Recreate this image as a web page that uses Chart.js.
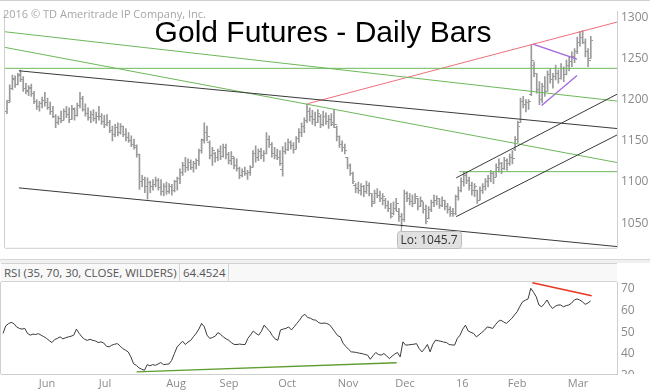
<!DOCTYPE html>
<html><head><meta charset="utf-8">
<script src="https://cdn.jsdelivr.net/npm/chart.js@4.4.1/dist/chart.umd.min.js"></script>
<style>
body{margin:0;width:650px;height:392px;overflow:hidden;background:#fff;position:relative;font-family:'Open Sans',sans-serif}
.abs{position:absolute}
</style></head><body>
<div class="abs" style="left:0;top:0;width:650px;height:259px"><canvas id="price"></canvas></div>
<div class="abs" style="left:0;top:259px;width:650px;height:4px;background:#f0f0f0;border-top:1px solid #d6d6d6;box-sizing:border-box"></div>
<div class="abs" style="left:0;top:263px;width:650px;height:129px"><canvas id="rsi"></canvas></div>
<div class="abs" style="left:1px;top:263px;width:616px;height:19px;background:#f8f8f8;border-top:1px solid #d4d4d4;border-bottom:1px solid #d4d4d4;box-sizing:border-box"></div>
<div class="abs" id="rsiName" style="left:1px;top:263px;width:179px;height:19px;border-right:1px solid #d4d4d4;box-sizing:border-box;font-size:11.5px;line-height:19px;color:#555;padding-left:3px;white-space:nowrap"></div>
<div class="abs" id="rsiVal" style="left:180px;top:263px;width:49px;height:19px;border-right:1px solid #d4d4d4;box-sizing:border-box;font-size:11.5px;line-height:19px;color:#555;padding-left:3px;white-space:nowrap"></div>
<div class="abs" id="copy" style="left:3px;top:8px;font-size:11px;line-height:11px;color:#a6a6a6;white-space:nowrap"></div>
<div class="abs" id="title" style="left:0;top:17px;width:646px;text-align:center;font-family:'Liberation Sans',Arial,sans-serif;font-size:30px;line-height:30px;color:#000;white-space:nowrap"></div>
<script>
// ---- data (trading-day index = position of each daily bar) ----
const titleText = 'Gold Futures - Daily Bars';
const copyrightText = '2016 \u00A9 TD Ameritrade IP Company, Inc.';
const rsiLabel = 'RSI (35, 70, 30, CLOSE, WILDERS)';
const rsiLast = '64.4524';

const opens = [1186,1199,1214,1225,1219,1229,1225,1214,1211,1214,1207,1198,1192,1195,1199,1196,1190,1186,1180,1172,
1177,1175,1186,1182,1176,1188,1181,1193,1202,1188,1183,1178,1182,1177,1180,1179,1173,1170,1172,1163,
1158,1166,1160,1168,1158,1154,1150,1146,1142,1133,1100,1103,1094,1099,1095,1097,1102,1093,1088,1094,
1089,1094,1090,1100,1104,1112,1120,1118,1124,1118,1122,1126,1138,1152,1160,1148,1132,1134,1130,1137,
1131,1142,1133,1126,1128,1120,1116,1108,1113,1110,1112,1118,1134,1130,1137,1132,1135,1152,1146,1134,
1132,1130,1115,1137,1140,1148,1144,1140,1153,1160,1168,1175,1186,1180,1176,1172,1180,1170,1180,1174,
1176,1172,1166,1155,1146,1142,1130,1120,1110,1096,1092,1090,1094,1088,1096,1086,1076,1086,1084,1080,
1078,1072,1068,1062,1068,1064,1058,1054,1086,1080,1076,1074,1080,1070,1076,1066,1056,1066,1075,1078,
1080,1072,1078,1070,1066,1064,1062,1082,1090,1100,1108,1102,1096,1090,1090,1078,1090,1094,1100,1104,
1110,1106,1118,1122,1116,1126,1122,1130,1140,1152,1172,1198,1194,1196,1206,1242,1232,1212,1200,1216,
1210,1230,1224,1228,1232,1226,1238,1230,1242,1246,1252,1258,1270,1275,1270,1258,1250];
const highs = [1199,1218,1230,1229,1232,1236,1228,1220,1217,1219,1210,1200,1198,1203,1209,1202,1197,1192,1182,1180,
1186,1189,1192,1190,1193,1190,1196,1209,1204,1195,1190,1186,1188,1185,1192,1183,1181,1182,1175,1168,
1170,1172,1171,1168,1165,1160,1156,1152,1145,1134,1108,1106,1105,1101,1103,1106,1104,1103,1098,1100,
1098,1097,1102,1106,1116,1124,1130,1128,1127,1125,1128,1140,1152,1172,1168,1150,1142,1136,1140,1144,
1146,1146,1136,1137,1130,1128,1118,1116,1118,1114,1120,1138,1144,1140,1141,1138,1160,1156,1148,1142,
1140,1138,1143,1148,1152,1150,1148,1155,1165,1172,1178,1195,1190,1187,1185,1188,1182,1186,1184,1181,
1183,1188,1168,1156,1150,1146,1130,1122,1112,1098,1100,1098,1096,1101,1099,1086,1090,1092,1089,1086,
1080,1077,1074,1076,1080,1068,1062,1090,1088,1086,1084,1086,1080,1082,1076,1072,1070,1078,1084,1083,
1080,1082,1078,1074,1070,1068,1084,1094,1105,1113,1112,1106,1100,1098,1090,1094,1098,1104,1108,1114,
1112,1122,1128,1124,1130,1128,1134,1138,1155,1174,1202,1204,1200,1200,1267,1246,1232,1222,1220,1228,
1235,1238,1232,1242,1236,1244,1240,1248,1252,1258,1262,1276,1283,1284,1274,1262,1277];
const lows = [1183,1197,1212,1215,1218,1222,1210,1207,1205,1204,1195,1188,1186,1190,1192,1188,1182,1178,1166,1170,
1172,1175,1178,1172,1176,1175,1180,1190,1186,1180,1175,1172,1174,1171,1175,1170,1166,1168,1160,1150,
1155,1156,1158,1155,1150,1148,1143,1140,1130,1091,1094,1087,1079,1087,1090,1094,1090,1084,1083,1085,
1086,1084,1088,1090,1098,1108,1112,1114,1115,1112,1116,1120,1135,1147,1150,1128,1120,1124,1126,1127,
1130,1128,1122,1121,1116,1113,1104,1106,1108,1103,1108,1118,1124,1126,1128,1125,1134,1142,1130,1128,
1127,1120,1107,1134,1138,1140,1135,1140,1148,1155,1160,1172,1174,1170,1168,1172,1166,1168,1170,1165,
1168,1166,1150,1142,1137,1134,1116,1108,1098,1087,1086,1084,1082,1086,1083,1070,1074,1081,1076,1072,
1068,1064,1056,1060,1065,1052,1045.7,1052,1076,1072,1070,1074,1066,1070,1062,1049,1055,1064,1070,1072,
1068,1070,1066,1062,1058,1058,1060,1078,1088,1095,1098,1090,1084,1082,1074,1078,1086,1090,1094,1100,
1098,1106,1112,1110,1115,1114,1120,1122,1138,1148,1172,1190,1185,1188,1205,1228,1208,1194,1196,1204,
1210,1220,1214,1224,1220,1225,1222,1230,1235,1240,1245,1256,1265,1268,1252,1240,1250];
const closes = [1197,1214,1226,1218,1230,1225,1214,1210,1215,1207,1198,1192,1195,1199,1196,1190,1186,1180,1172,1177,
1175,1186,1182,1176,1189,1181,1193,1202,1188,1183,1178,1182,1177,1180,1179,1173,1170,1172,1163,1158,
1166,1160,1168,1158,1154,1150,1146,1144,1133,1100,1103,1094,1099,1095,1097,1102,1093,1088,1094,1089,
1094,1090,1100,1104,1112,1120,1118,1124,1118,1122,1126,1138,1150,1160,1155,1132,1138,1130,1137,1131,
1142,1133,1126,1131,1120,1116,1108,1113,1110,1112,1118,1134,1130,1137,1132,1135,1152,1146,1134,1132,
1130,1122,1137,1140,1148,1144,1140,1153,1160,1168,1175,1186,1180,1176,1172,1183,1170,1180,1174,1176,
1170,1170,1155,1146,1142,1138,1120,1110,1100,1092,1090,1094,1088,1096,1086,1074,1086,1084,1080,1082,
1072,1068,1058,1068,1074,1058,1054,1086,1080,1076,1074,1082,1070,1078,1066,1052,1066,1075,1078,1080,
1072,1078,1070,1066,1062,1062,1082,1090,1100,1108,1102,1096,1090,1094,1078,1090,1094,1100,1104,1110,
1106,1118,1122,1116,1126,1122,1130,1128,1152,1168,1198,1194,1196,1198,1248,1232,1212,1200,1216,1210,
1230,1224,1228,1232,1226,1238,1230,1242,1246,1252,1258,1270,1275,1270,1258,1248,1272];
const rsiValues = [49.5,53.0,54.0,54.6,54.0,52.5,51.8,51.5,51.8,49.5,48.7,49.2,49.0,49.4,48.7,48.0,47.2,46.2,45.3,46.7,
47.2,47.9,47.0,47.5,47.9,48.2,48.7,51.5,49.5,47.9,46.8,46.3,46.8,46.3,46.0,45.3,45.6,45.1,43.6,43.3,
44.1,44.5,44.8,43.8,42.5,41.8,41.0,38.7,35.5,34.8,33.6,33.0,32.5,35.1,34.6,35.1,34.8,35.4,36.1,35.1,
35.3,35.4,37.1,40.2,43.3,44.6,45.9,44.4,45.5,46.3,48.0,49.5,51.5,54.1,52.5,48.7,47.2,47.6,48.2,49.9,
49.0,47.9,47.0,46.3,45.2,44.4,44.4,44.6,44.4,44.4,47.2,48.8,50.6,49.5,48.7,50.5,53.3,51.8,50.6,48.5,
47.0,46.3,51.1,51.5,51.8,52.5,51.1,52.5,54.1,55.6,57.5,58.3,56.8,56.5,55.8,55.6,54.5,54.1,54.3,54.1,
53.5,52.0,50.2,48.5,47.9,45.0,43.5,42.2,41.0,40.9,40.7,40.4,40.2,39.8,39.5,37.6,39.2,40.7,39.8,39.5,
40.2,39.2,37.9,39.0,40.0,40.7,38.7,45.6,44.1,44.2,44.4,44.5,44.8,42.5,41.0,42.5,44.4,41.0,44.5,46.4,
46.1,45.9,45.5,45.3,44.4,44.2,44.1,47.2,48.7,51.5,53.3,50.6,50.0,49.5,47.9,48.9,49.9,51.0,52.5,52.2,
51.8,53.5,55.0,55.6,54.8,54.1,55.2,56.4,58.0,59.5,62.0,64.1,64.8,65.4,70.3,68.5,66.4,62.6,61.8,63.2,
64.9,62.5,61.0,62.0,62.6,62.6,61.8,62.3,62.6,63.5,64.9,65.4,64.9,64.1,62.9,63.5,64.45];

const monthTickIdx = [16.2, 37.5, 63.6, 83.1, 104.4, 126.8, 147.8, 168.8, 189, 211.4];
const monthLabels = ['Jun','Jul','Aug','Sep','Oct','Nov','Dec','16','Feb','Mar'];
const priceTicks = [1050, 1100, 1150, 1200, 1250, 1300];
const rsiTicks = [30, 40, 50, 60, 70];

// trend lines drawn on the price chart: [startIdx, startPrice, endIdx, endPrice]
const blackLines = [[4.4,1235.1,225.7,1164.9],[4.4,1092.8,225.7,1021.5],[166.2,1105.0,225.7,1206.6],[166.2,1057.9,225.7,1157.1]];
const greenLines = [[-0.74,1238.1,225.7,1238.1],[-0.74,1282.5,225.7,1198.3],[-0.74,1263.5,225.7,1123.6],[167.3,1112.5,225.7,1112.5]];
const redLines = [[111.4,1195.3,225.7,1294.3]];
const purpleLines = [[194.6,1267.4,210.9,1249.2],[197.8,1193.0,210.9,1229.5]];
// lines on the RSI panel
const rsiGreenLine = [49.1,31.8,144.7,36.0];
const rsiRedLine = [194.6,72.9,216.4,66.9];

// ---- text ----
document.getElementById('title').textContent = titleText;
document.getElementById('copy').textContent = copyrightText;
document.getElementById('rsiName').textContent = rsiLabel;
document.getElementById('rsiVal').textContent = rsiLast;

// ---- helpers ----
const X_MIN = -0.74, X_MAX = 225.7;
const FONT = "'Open Sans', sans-serif";
function tickImg(side, color){
  const c = document.createElement('canvas'); c.width = 5; c.height = 1;
  const g = c.getContext('2d'); g.fillStyle = color;
  if (side === 'left') g.fillRect(0,0,2,1); else g.fillRect(3,0,2,1);
  return c;
}
function seg(a, color, width){
  return {type:'line', data:[{x:a[0],y:a[1]},{x:a[2],y:a[3]}], borderColor:color, borderWidth:width||1,
    pointRadius:0, tension:0, fill:false, order:0};
}
const barColor = '#9a9a9a';
const idx = highs.map((_, i) => i);

const framePlugin = {
  id:'frame',
  beforeDraw(chart){
    const {ctx, chartArea:a} = chart;
    ctx.save(); ctx.strokeStyle = '#cfcfcf'; ctx.lineWidth = 1;
    ctx.beginPath();
    ctx.moveTo(a.left-0.5, a.top); ctx.lineTo(a.left-0.5, a.bottom);
    ctx.moveTo(a.left, a.bottom+0.5); ctx.lineTo(a.right, a.bottom+0.5);
    ctx.stroke(); ctx.restore();
  }
};

// ---- price chart ----
const loPlugin = {
  id:'lo',
  afterDatasetsDraw(chart){
    const {ctx} = chart; const xs = chart.scales.x, ys = chart.scales.y;
    let mi = 0; lows.forEach((v,i)=>{ if (v < lows[mi]) mi = i; });
    const px = xs.getPixelForValue(mi), py = ys.getPixelForValue(lows[mi]);
    const bx = Math.round(px) - 4.5, by = Math.round(py) + 4.5, bw = 64, bh = 17;
    ctx.save();
    ctx.strokeStyle = '#9a9a9a'; ctx.beginPath(); ctx.moveTo(px, py); ctx.lineTo(px-0.5, by); ctx.stroke();
    ctx.beginPath();
    if (ctx.roundRect) ctx.roundRect(bx, by, bw, bh, 3); else ctx.rect(bx, by, bw, bh);
    ctx.fillStyle = '#e1e1e1'; ctx.fill(); ctx.strokeStyle = '#bdbdbd'; ctx.stroke();
    ctx.fillStyle = '#333'; ctx.font = "12px " + FONT; ctx.textBaseline = 'middle'; ctx.textAlign = 'left';
    ctx.fillText('Lo: ' + lows[mi], bx + 3, by + bh/2 + 0.5);
    ctx.restore();
  },
  afterDraw(chart){
    const {ctx} = chart;
    ctx.save(); ctx.strokeStyle = '#d0d0d0'; ctx.beginPath(); ctx.moveTo(0,0.5); ctx.lineTo(chart.width,0.5); ctx.stroke(); ctx.restore();
  }
};

const priceDatasets = [];
blackLines.forEach(l => priceDatasets.push(seg(l, '#3a3a3a')));
greenLines.forEach(l => priceDatasets.push(seg(l, '#6cb85a')));
redLines.forEach(l => priceDatasets.push(seg(l, '#ee6f7b')));
purpleLines.forEach(l => priceDatasets.push(seg(l, '#a466e0', 1.3)));
priceDatasets.push({type:'bar', data: idx.map(i => ({x:i, y:[lows[i], highs[i]]})), backgroundColor: barColor,
  borderWidth:0, barThickness:1, order:1});
priceDatasets.push({type:'scatter', data: idx.map(i => ({x:i, y:opens[i]})), pointStyle: tickImg('left', barColor), pointRadius:1, order:1});
priceDatasets.push({type:'scatter', data: idx.map(i => ({x:i, y:closes[i]})), pointStyle: tickImg('right', barColor), pointRadius:1, order:1});

new Chart(document.getElementById('price'), {
  type:'bar',
  data:{datasets: priceDatasets},
  options:{
    responsive:true, maintainAspectRatio:false, animation:false,
    layout:{padding:{left:1, top:0, right:0, bottom:1}},
    plugins:{legend:{display:false}, tooltip:{enabled:false}},
    scales:{
      x:{type:'linear', min:X_MIN, max:X_MAX, offset:false, display:false},
      y:{type:'linear', position:'right', min:1020, max:1307.5,
         afterFit(s){ s.width = 33; },
         afterBuildTicks(s){ s.ticks = priceTicks.map(v => ({value:v})); },
         grid:{display:false, drawTicks:false},
         border:{display:true, color:'#cfcfcf'},
         ticks:{color:'#8a8a8a', padding:4, font:{family:FONT, size:12}, callback(v){ return String(v); }}}
    }
  },
  plugins:[framePlugin, loPlugin]
});

// ---- RSI chart ----
const rsi30Plugin = {
  id:'rsi30',
  afterDraw(chart){
    const {ctx, chartArea:a} = chart; const ys = chart.scales.y;
    ctx.save();
    ctx.beginPath(); ctx.rect(a.right+1, 0, 40, a.bottom); ctx.clip();
    ctx.fillStyle = '#8a8a8a'; ctx.font = "12px " + FONT; ctx.textBaseline = 'middle'; ctx.textAlign = 'left';
    ctx.fillText(String(rsiTicks[0]), a.right + 4, ys.getPixelForValue(rsiTicks[0]));
    ctx.restore();
  }
};
new Chart(document.getElementById('rsi'), {
  type:'line',
  data:{datasets:[
    seg(rsiGreenLine, '#5e9e30', 1.4),
    Object.assign(seg(rsiRedLine, '#e8361f', 1.5), {clip:false}),
    {type:'line', data: idx.map(i => ({x:i, y:rsiValues[i]})), borderColor:'#3a3a3a', borderWidth:1, pointRadius:0, tension:0, order:1}
  ]},
  options:{
    responsive:true, maintainAspectRatio:false, animation:false,
    layout:{padding:{left:1, top:19, right:0, bottom:0}},
    plugins:{legend:{display:false}, tooltip:{enabled:false}},
    scales:{
      x:{type:'linear', min:X_MIN, max:X_MAX, offset:false,
         afterFit(s){ s.height = 18; },
         afterBuildTicks(s){ s.ticks = monthTickIdx.map(v => ({value:v})); },
         grid:{display:false, drawTicks:false},
         border:{display:true, color:'#cfcfcf'},
         ticks:{autoSkip:false, maxRotation:0, padding:3, color:'#8a8a8a', font:{family:FONT, size:11},
           callback(v){ const k = monthTickIdx.indexOf(v); return k >= 0 ? monthLabels[k] : ''; }}},
      y:{type:'linear', position:'right', min:30.8, max:73.2,
         afterFit(s){ s.width = 33; },
         afterBuildTicks(s){ s.ticks = rsiTicks.slice(1).map(v => ({value:v})); },
         grid:{display:false, drawTicks:false},
         border:{display:true, color:'#cfcfcf'},
         ticks:{color:'#8a8a8a', padding:4, font:{family:FONT, size:12}}}
    }
  },
  plugins:[framePlugin, rsi30Plugin]
});
</script>
</body></html>
